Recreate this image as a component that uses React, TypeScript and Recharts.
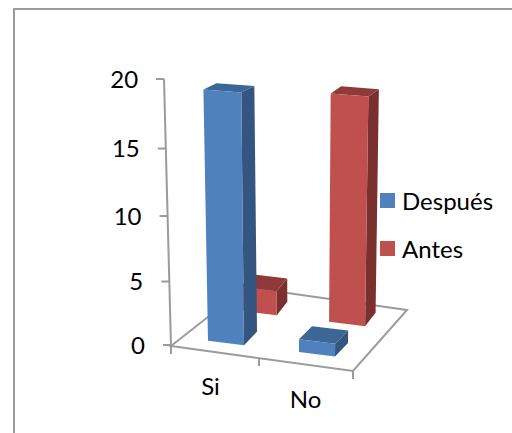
import { BarChart, Bar, XAxis, YAxis, Legend } from 'recharts'

const categories = ['Si', 'No']
const despues = [19, 1]
const antes = [2, 18]
const yTicks = [0, 5, 10, 15, 20]

const data = categories.map((name, i) => ({ name, despues: despues[i], antes: antes[i] }))

const FONT = 'Lato, sans-serif'
const AXIS_COLOR = '#9b9b9b'
const PLOT_LEFT = 171
const PLOT_BOTTOM = 345
const PLOT_HEIGHT = 266
const PLOT_MID = 262

const BLUE = { front: '#4F81BD', side: '#335580', top: '#3C6696' }
const RED = { front: '#C0504D', side: '#7B3030', top: '#8F3A38' }

// fake 3D: maps a flat chart position onto the tilted floor / walls
const project = (x: number, y: number) => {
  const h = PLOT_BOTTOM - y
  const shear = 0.125 - (0.05 * h) / PLOT_HEIGHT
  return {
    x: x + (x - 295) * 0.00021 * h,
    y: y + h * (PLOT_HEIGHT - h) * 0.000226 + (x - PLOT_LEFT) * shear,
  }
}

const pts = (list: { x: number; y: number }[]) => list.map((p) => `${p.x},${p.y}`).join(' ')

const Bar3D = (props: any) => {
  const { x, y, width, height, colors, dx, dy, depthX, shrink, spread } = props
  const h = height * shrink
  const bottom = y + height
  const top = bottom - h
  // further back means the categories sit a bit closer together
  const left = x + dx + (x + width / 2 - PLOT_MID + 18) * spread
  const corner = (cx: number, cy: number) => {
    const p = project(cx, cy)
    return { x: p.x, y: p.y + dy }
  }
  const back = (p: { x: number; y: number }, cy: number) => ({
    x: p.x + depthX,
    y: p.y - 13.5 + (7.5 * (PLOT_BOTTOM - cy)) / PLOT_HEIGHT,
  })
  const tl = corner(left, top)
  const tr = corner(left + width, top)
  const bl = corner(left, bottom)
  const br = corner(left + width, bottom)
  const tlb = back(tl, top)
  const trb = back(tr, top)
  const brb = back(br, bottom)
  return (
    <g>
      <polygon points={pts([tr, trb, brb, br])} fill={colors.side} />
      <polygon points={pts([tl, tlb, trb, tr])} fill={colors.top} />
      <polygon points={pts([tl, tr, br, bl])} fill={colors.front} />
    </g>
  )
}

const YTick = (props: any) => {
  const { y, payload } = props
  const p = project(PLOT_LEFT, y)
  return (
    <g>
      <line x1={p.x - 8} y1={p.y} x2={p.x} y2={p.y} stroke={AXIS_COLOR} strokeWidth={2} />
      <text x={p.x - 26} y={p.y + 9} textAnchor="end" fontSize={24} fontFamily={FONT} fill="#000">
        {payload.value}
      </text>
    </g>
  )
}

const XTick = (props: any) => {
  const { x, payload } = props
  const p = project(x, PLOT_BOTTOM)
  return (
    <text
      x={p.x - 4 + (x - PLOT_MID) * 0.044}
      y={p.y + 45 + (x - PLOT_MID) * 0.022}
      textAnchor="middle"
      fontSize={24}
      fontFamily={FONT}
      fill="#000"
    >
      {payload.value}
    </text>
  )
}

// floor outline and axis lines
const Floor = () => (
  <g fill="none" stroke={AXIS_COLOR} strokeWidth={2}>
    <polygon points="171,346 353,371 407,310 246,287" />
    <line x1={171} y1={346} x2={164} y2={79} />
    <line x1={171} y1={346} x2={171} y2={354} />
    <line x1={259} y1={358} x2={259} y2={366} />
    <line x1={353} y1={371} x2={353} y2={379} />
  </g>
)

const legendItems = [
  { label: 'Después', color: BLUE.front },
  { label: 'Antes', color: RED.front },
]

const ChartLegend = () => (
  <div style={{ fontFamily: FONT, fontSize: 24, color: '#000' }}>
    {legendItems.map((item) => (
      <div key={item.label} style={{ display: 'flex', alignItems: 'center', height: 48 }}>
        <div style={{ width: 15, height: 15, backgroundColor: item.color, marginRight: 7 }} />
        <span>{item.label}</span>
      </div>
    ))}
  </div>
)

export default function App() {
  return (
    <div style={{ position: 'absolute', left: 0, top: 0, width: 512, height: 433, overflow: 'hidden', background: '#fff' }}>
      <div style={{ position: 'absolute', left: 13, top: 8, width: 700, height: 700, border: `2px solid ${AXIS_COLOR}` }} />
      <BarChart
        width={512}
        height={433}
        data={data}
        barSize={36}
        barGap={-36}
        margin={{ top: 79, right: 159, bottom: 28, left: 0 }}
        style={{ position: 'absolute', left: 0, top: 0 }}
      >
        <XAxis dataKey="name" height={60} axisLine={false} tickLine={false} tick={<XTick />} interval={0} />
        <YAxis width={171} domain={[0, 20]} ticks={yTicks} axisLine={false} tickLine={false} tick={<YTick />} />
        <Floor />
        <Legend
          layout="vertical"
          align="center"
          verticalAlign="middle"
          content={<ChartLegend />}
          wrapperStyle={{ position: 'absolute', left: 380, top: 176, width: 130, margin: 0 }}
        />
        <Bar
          dataKey="antes"
          name="Antes"
          fill={RED.front}
          isAnimationActive={false}
          shape={(p: any) => <Bar3D {...p} colors={RED} dx={41} dy={-43} depthX={10.5} shrink={0.935} spread={-0.03} />}
        />
        <Bar
          dataKey="despues"
          name="Después"
          fill={BLUE.front}
          isAnimationActive={false}
          shape={(p: any) => <Bar3D {...p} colors={BLUE} dx={9} dy={-9} depthX={13} shrink={0.99} spread={0} />}
        />
      </BarChart>
    </div>
  )
}
